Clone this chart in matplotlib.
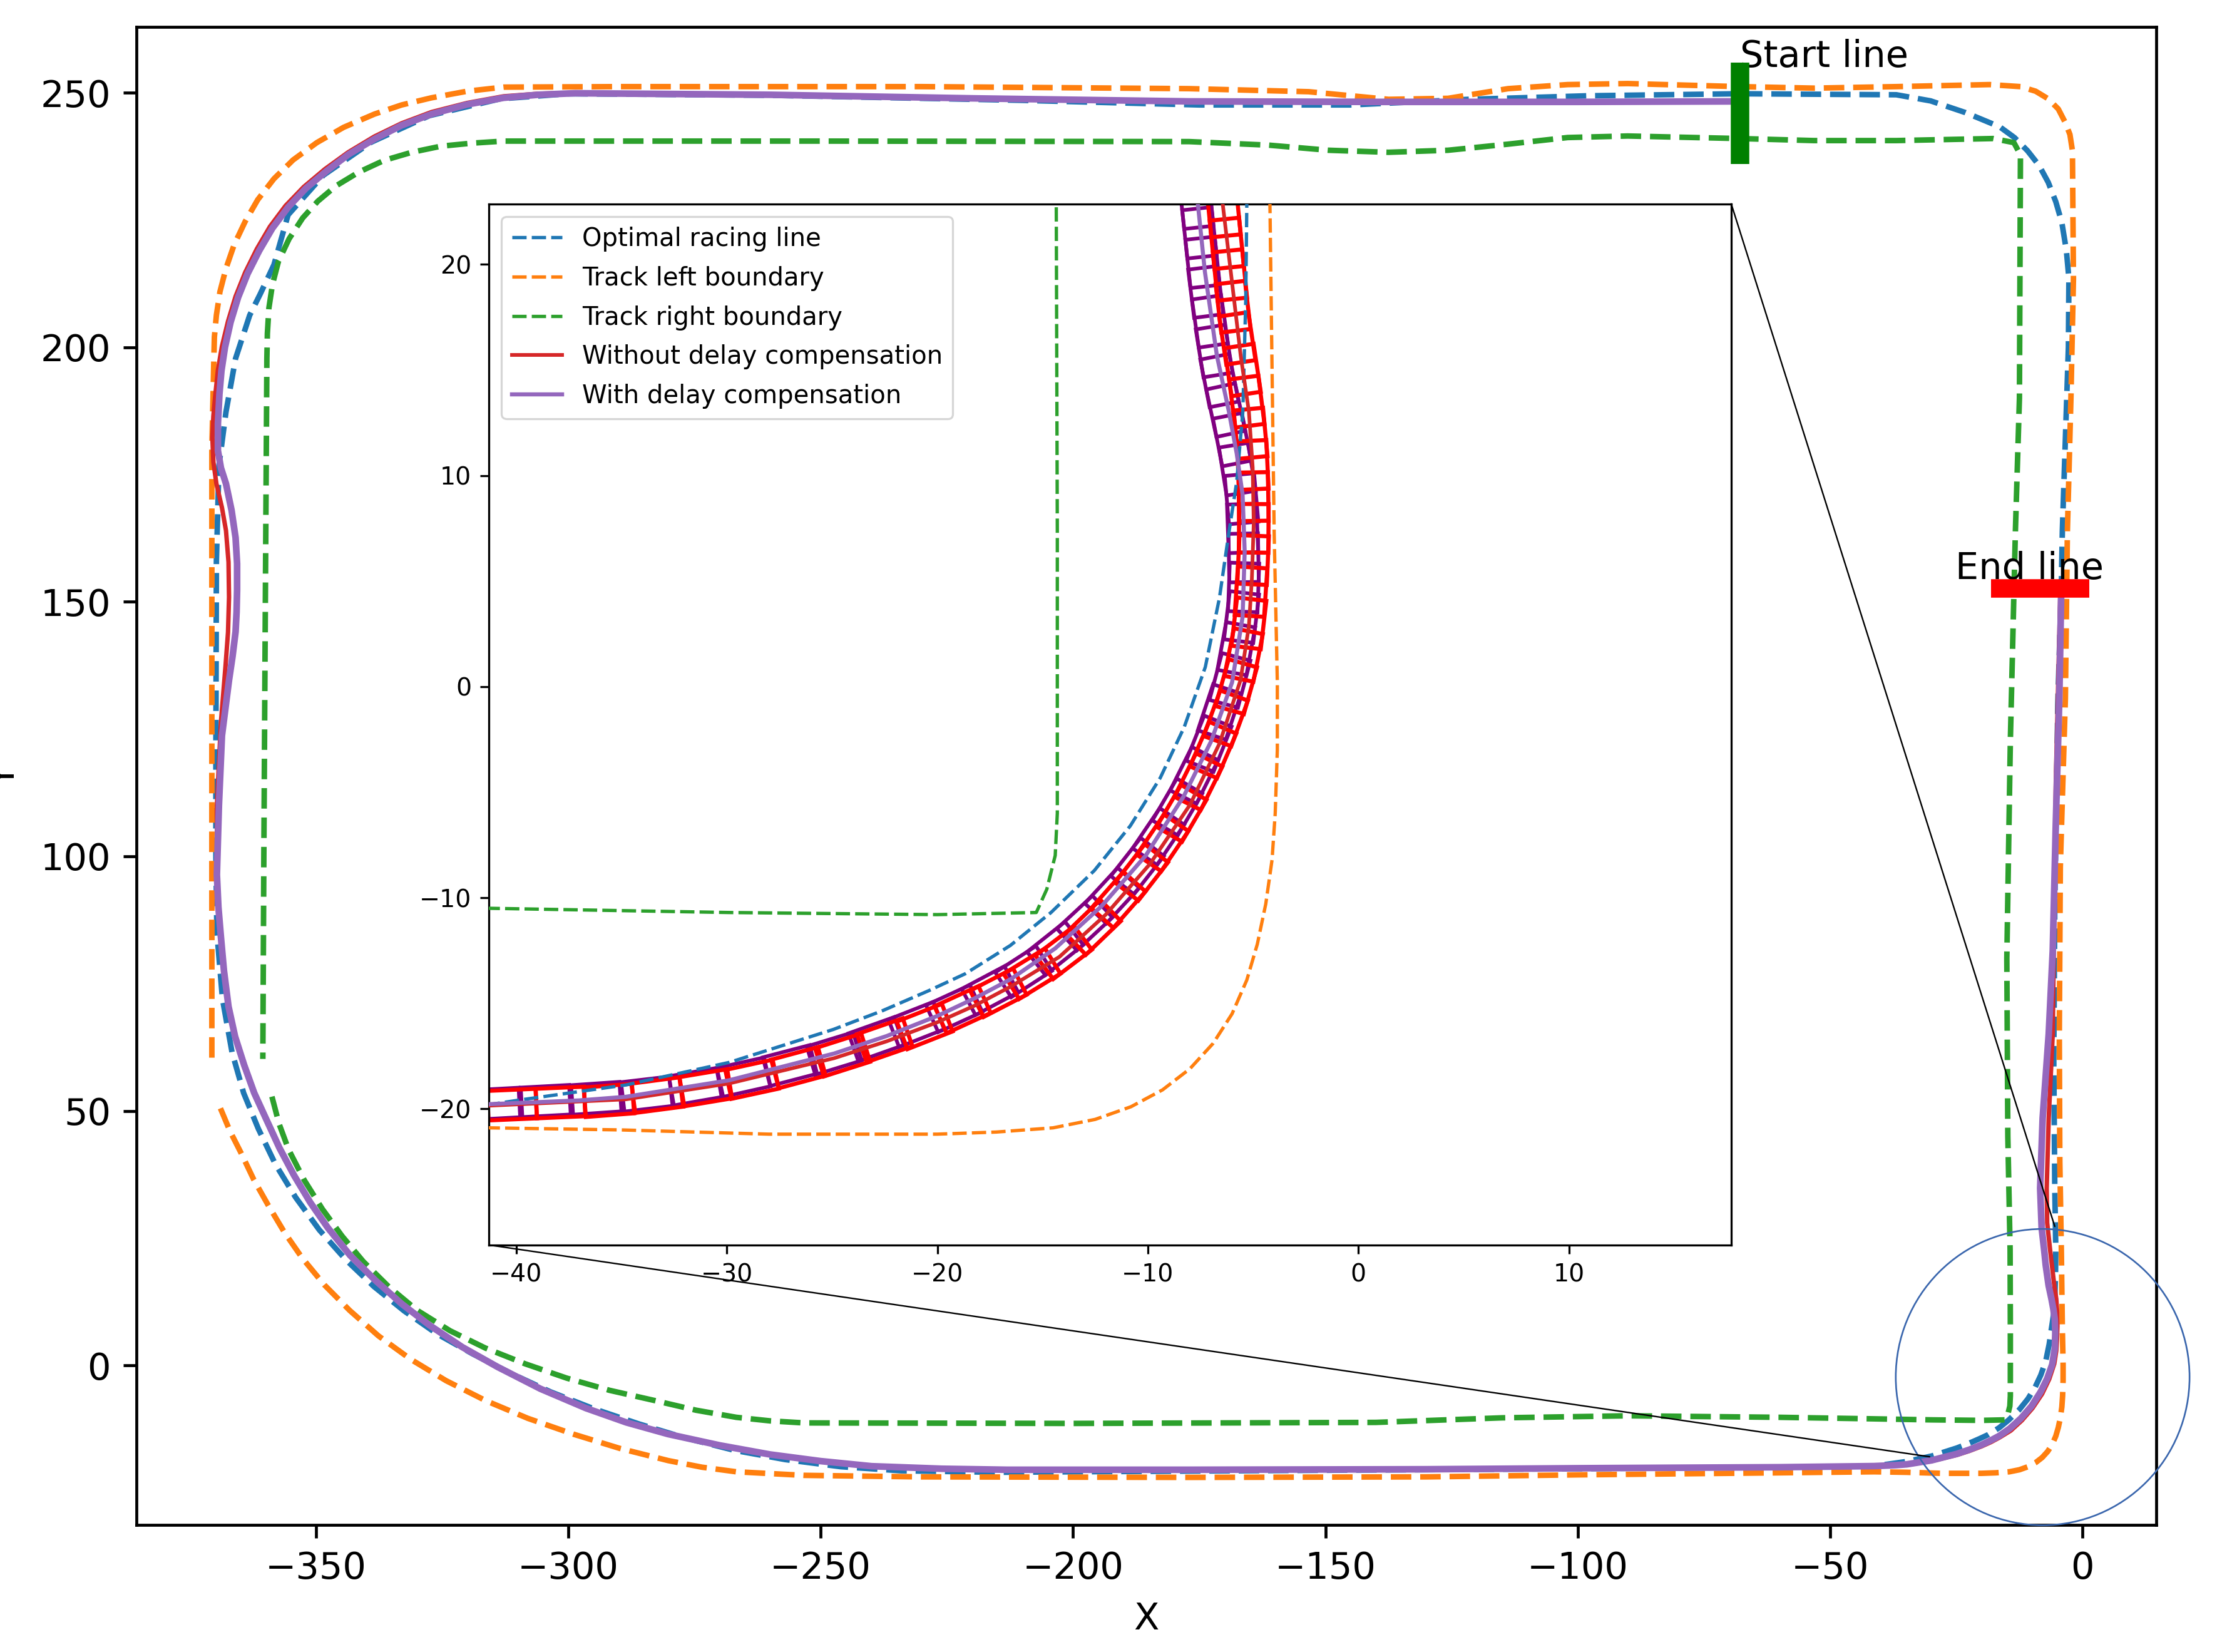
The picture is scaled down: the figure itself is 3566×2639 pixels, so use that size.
import numpy as np
import matplotlib
matplotlib.use("Agg")
import matplotlib.pyplot as plt
from matplotlib.patches import Circle, Rectangle, ConnectionPatch

# ---------------- data ----------------
optimal_line = [
    (-369.8, 100.0), (-369.6, 85.0), (-368.5, 72.0), (-366.6, 61.5), (-364.3, 53.5),
    (-361.4, 46.5), (-358.0, 39.5), (-354.0, 33.0), (-349.3, 26.6), (-344.0, 20.7),
    (-338.5, 15.5), (-332.5, 10.7), (-326.0, 6.2), (-319.0, 2.3), (-311.5, -1.5),
    (-303.5, -5.2), (-295.0, -8.5), (-286.0, -11.5), (-277.0, -14.2), (-267.0, -16.7),
    (-257.0, -18.5), (-246.0, -19.9), (-234.0, -20.7), (-215.0, -21.0), (-200.0, -20.9),
    (-150.0, -20.6), (-100.0, -20.3), (-60.0, -20.0), (-41.3, -19.8), (-39.75, -19.57),
    (-34.8, -18.87), (-29.88, -17.8), (-24.94, -16.24), (-22.6, -15.35), (-20.4, -14.4),
    (-18.67, -13.6), (-16.53, -12.26), (-14.6, -10.7), (-12.54, -8.71), (-10.83, -6.59),
    (-9.41, -4.32), (-8.27, -1.91), (-7.27, 0.93), (-6.6, 4.2), (-6.15, 7.3),
    (-5.78, 9.7), (-5.49, 13.0), (-5.35, 18.3), (-5.3, 22.8), (-5.5, 35.0),
    (-5.7, 60.0), (-5.5, 90.0), (-4.9, 130.0), (-4.2, 153.2), (-4.0, 163.9),
    (-3.3, 185.0), (-2.8, 200.0), (-2.7, 213.5), (-3.2, 219.0), (-4.1, 224.5),
    (-5.3, 228.6), (-6.8, 232.4), (-8.6, 235.7), (-10.9, 238.6), (-13.5, 241.2),
    (-16.4, 243.3), (-23.2, 246.1), (-30.1, 248.4), (-36.9, 249.6), (-68.0, 249.8),
    (-98.0, 249.4), (-121.7, 248.7), (-145.0, 247.6), (-175.0, 247.6), (-210.0, 248.5),
    (-260.0, 249.5), (-300.0, 249.8), (-313.5, 248.8), (-327.5, 245.5), (-339.0, 240.3),
    (-348.5, 233.8), (-355.5, 226.0), (-358.3, 216.2), (-361.0, 210.5), (-363.1, 206.3),
    (-365.9, 197.8), (-367.8, 187.3), (-369.2, 176.7), (-369.7, 158.0), (-369.8, 121.0),
    (-369.8, 100.0),
]

left_boundary = [
    (-368.9, 50.5), (-367.0, 46.0), (-364.8, 41.7), (-362.3, 36.5), (-359.4, 31.4),
    (-356.2, 26.1), (-352.7, 21.1), (-348.3, 15.8), (-343.3, 10.8), (-337.6, 5.8),
    (-331.2, 1.2), (-324.2, -3.0), (-316.4, -6.9), (-308.0, -10.4), (-299.0, -13.5),
    (-289.8, -16.3), (-280.2, -18.7), (-273.5, -20.0), (-266.7, -20.9), (-253.3, -21.6),
    (-230.0, -21.9), (-177.0, -22.0), (-130.0, -21.9), (-100.0, -21.5), (-60.0, -21.1),
    (-41.3, -20.9), (-35.0, -21.0), (-28.0, -21.2), (-20.0, -21.2), (-17.2, -21.1),
    (-14.5, -20.9), (-12.5, -20.5), (-10.8, -19.9), (-9.3, -19.1), (-8.0, -18.1),
    (-6.9, -16.9), (-6.0, -15.5), (-5.3, -13.9), (-4.8, -12.2), (-4.4, -10.3),
    (-4.1, -8.2), (-3.95, -6.0), (-3.85, -3.0), (-3.85, 0.2), (-4.0, 7.3),
    (-4.1, 15.0), (-4.2, 22.8), (-4.5, 40.0), (-4.6, 65.0), (-4.4, 98.0),
    (-3.4, 131.0), (-3.0, 163.9), (-2.3, 190.0), (-1.8, 213.5), (-2.0, 238.6),
    (-2.5, 241.8), (-3.4, 244.1), (-4.8, 246.8), (-6.8, 248.8), (-9.3, 250.3),
    (-12.3, 251.2), (-18.4, 251.6), (-36.9, 251.2), (-53.2, 250.9), (-68.0, 251.2),
    (-90.1, 251.8), (-102.0, 251.6), (-113.8, 250.8), (-125.7, 248.9), (-137.5, 248.7),
    (-153.3, 250.2), (-177.0, 250.8), (-230.0, 251.2), (-290.0, 251.2), (-312.8, 251.1),
    (-320.0, 250.3), (-327.1, 249.0), (-333.0, 247.6), (-338.4, 245.8), (-344.5, 243.2),
    (-349.8, 240.2), (-354.5, 236.8), (-358.3, 233.1), (-361.5, 229.0), (-364.0, 224.7),
    (-366.2, 220.1), (-367.8, 215.5), (-369.0, 210.9), (-369.7, 206.3), (-370.1, 202.0),
    (-370.2, 197.8), (-370.6, 180.0), (-370.6, 120.0), (-370.6, 60.2),
]

right_boundary = [
    (-358.7, 52.8), (-357.3, 47.5), (-355.4, 42.4), (-352.3, 36.4), (-348.7, 30.7),
    (-344.8, 25.4), (-340.6, 20.4), (-335.5, 15.4), (-329.9, 10.8), (-323.4, 6.8),
    (-316.4, 3.4), (-308.5, 0.3), (-300.3, -2.5), (-291.8, -4.9), (-282.9, -6.9),
    (-274.7, -8.8), (-266.7, -10.2), (-260.0, -10.9), (-253.3, -11.3), (-200.0, -11.4),
    (-140.0, -11.2), (-115.0, -10.3), (-90.0, -9.9), (-60.0, -10.2), (-41.3, -10.5),
    (-29.9, -10.7), (-20.0, -10.8), (-15.3, -10.7), (-14.8, -9.6), (-14.4, -8.0),
    (-14.3, -6.0), (-14.3, 7.3), (-14.35, 22.8), (-14.8, 45.0), (-15.0, 80.0),
    (-14.3, 122.7), (-13.7, 147.4), (-13.3, 163.9), (-12.5, 190.0), (-12.3, 237.8),
    (-13.6, 240.2), (-17.7, 241.0), (-36.9, 240.6), (-53.2, 240.6), (-68.0, 241.0),
    (-90.1, 241.5), (-102.0, 241.2), (-113.8, 239.9), (-125.7, 238.7), (-137.5, 238.3),
    (-149.4, 238.7), (-161.2, 239.7), (-177.0, 240.4), (-250.0, 240.5), (-312.8, 240.5),
    (-319.0, 240.1), (-325.2, 239.5), (-331.0, 238.3), (-336.5, 236.7), (-341.5, 234.4),
    (-346.0, 231.7), (-349.6, 228.7), (-352.6, 225.4), (-355.3, 221.3), (-357.4, 216.9),
    (-358.6, 212.3), (-359.3, 207.7), (-359.6, 202.7), (-359.7, 197.8), (-360.0, 150.0),
    (-360.3, 100.0), (-360.5, 60.2),
]

without_comp = [
    (-67.7, 248.4), (-100.0, 248.3), (-140.0, 248.2), (-177.0, 248.3), (-220.0, 248.9),
    (-260.0, 249.6), (-298.6, 250.0), (-306.0, 249.8), (-312.8, 249.3), (-320.0, 248.0),
    (-327.1, 246.2), (-333.0, 244.0), (-338.4, 241.4), (-343.6, 238.3), (-348.2, 235.0),
    (-352.4, 231.5), (-356.0, 227.8), (-359.1, 223.7), (-361.7, 219.3), (-364.0, 214.7),
    (-365.9, 210.0), (-367.4, 205.1), (-368.6, 200.2), (-369.4, 195.5), (-369.9, 190.8),
    (-370.3, 186.5), (-370.5, 182.3), (-370.3, 177.5), (-369.7, 173.2), (-368.6, 168.5),
    (-367.8, 164.0), (-367.3, 157.8), (-367.2, 150.9), (-367.4, 144.0), (-367.9, 137.3),
    (-368.8, 126.4), (-369.6, 110.0), (-369.6, 96.4), (-369.3, 90.0), (-368.8, 84.1),
    (-368.2, 77.5), (-367.3, 70.5), (-366.0, 64.6), (-364.2, 59.0), (-362.2, 53.5),
    (-359.8, 48.3), (-357.2, 42.7), (-354.3, 37.3), (-351.1, 32.0), (-347.6, 27.0),
    (-343.2, 21.6), (-338.2, 16.7), (-333.0, 12.1), (-327.5, 7.9), (-321.0, 3.6),
    (-314.0, -0.3), (-305.5, -4.6), (-296.5, -8.4), (-288.5, -11.2), (-280.2, -13.5),
    (-270.0, -15.7), (-260.0, -17.5), (-250.0, -18.8), (-239.9, -19.8), (-226.0, -20.3),
    (-213.0, -20.5), (-177.0, -20.5), (-130.0, -20.4), (-100.0, -20.2), (-60.0, -20.0),
    (-41.3, -19.85), (-34.8, -19.55), (-29.9, -18.8), (-24.9, -17.6), (-22.4, -16.8),
    (-20.0, -15.9), (-18.2, -15.1), (-16.5, -14.2), (-14.2, -12.8), (-12.0, -10.8),
    (-9.9, -8.4), (-8.0, -5.6), (-6.6, -2.7), (-5.6, 0.3), (-5.2, 2.87),
    (-5.06, 5.09), (-4.97, 7.73), (-5.02, 10.38), (-5.2, 13.03), (-5.59, 15.68),
    (-6.06, 19.65), (-6.44, 22.83), (-7.0, 28.0), (-7.1, 34.8), (-6.7, 48.6),
    (-5.9, 65.1), (-5.7, 81.5), (-5.3, 114.5), (-4.8, 135.0), (-4.4, 152.0),
]

with_comp = [
    (-67.7, 248.3), (-100.0, 248.2), (-140.0, 248.2), (-177.0, 248.3), (-220.0, 248.9),
    (-260.0, 249.6), (-298.6, 249.9), (-306.0, 249.6), (-312.8, 249.0), (-320.0, 247.7),
    (-327.1, 245.8), (-333.0, 243.6), (-338.4, 240.9), (-343.5, 237.9), (-347.9, 234.6),
    (-352.0, 231.2), (-355.5, 227.5), (-358.6, 223.4), (-361.2, 219.0), (-363.5, 214.5),
    (-365.4, 209.8), (-366.9, 204.9), (-368.0, 200.0), (-368.7, 195.4), (-369.1, 190.8),
    (-369.4, 185.0), (-369.4, 179.7), (-368.8, 176.3), (-367.8, 173.2), (-366.7, 168.0),
    (-365.9, 162.6), (-365.6, 157.5), (-365.6, 152.3), (-365.7, 148.0), (-365.9, 144.1),
    (-366.5, 139.3), (-367.2, 134.6), (-368.6, 123.7), (-369.2, 110.0), (-369.6, 96.4),
    (-369.3, 90.0), (-368.8, 84.1), (-368.2, 77.5), (-367.3, 70.5), (-366.0, 64.6),
    (-364.2, 59.0), (-362.2, 53.5), (-359.8, 48.3), (-357.2, 42.7), (-354.3, 37.3),
    (-351.1, 32.0), (-347.6, 27.0), (-343.2, 21.6), (-338.2, 16.7), (-333.0, 12.1),
    (-327.5, 7.9), (-321.0, 3.6), (-314.0, -0.3), (-305.5, -4.6), (-296.5, -8.4),
    (-288.5, -11.2), (-280.2, -13.5), (-270.0, -15.7), (-260.0, -17.5), (-250.0, -18.8),
    (-239.9, -19.8), (-226.0, -20.3), (-213.0, -20.5), (-177.0, -20.5), (-130.0, -20.4),
    (-100.0, -20.2), (-60.0, -20.0), (-41.3, -19.78), (-37.0, -19.6), (-34.8, -19.43),
    (-29.9, -18.65), (-24.9, -17.38), (-22.4, -16.55), (-20.0, -15.6), (-18.2, -14.75),
    (-16.5, -13.85), (-14.4, -12.4), (-12.2, -10.4), (-10.1, -8.0), (-8.3, -5.2),
    (-7.0, -2.6), (-6.0, 0.2), (-5.5, 3.3), (-5.4, 6.4), (-5.5, 9.1),
    (-5.78, 11.05), (-6.15, 13.03), (-6.72, 15.68), (-7.29, 19.65), (-7.62, 22.83),
    (-8.1, 27.0), (-8.4, 34.8), (-7.9, 48.6), (-6.7, 65.1), (-5.9, 81.5),
    (-5.3, 106.3), (-4.6, 131.0), (-4.2, 153.2),
]

# vehicle footprints shown in the zoomed view
without_comp_cars = [
    (-40.2, -19.8), (-37.9, -19.7), (-35.6, -19.6), (-33.3, -19.35), (-31.0, -19.0),
    (-28.8, -18.6), (-26.6, -18.05), (-24.5, -17.45), (-22.5, -16.75), (-20.6, -16.1),
    (-18.8, -15.3), (-17.1, -14.5), (-15.5, -13.6), (-14.0, -12.6), (-12.6, -11.4),
    (-11.4, -10.1), (-10.3, -8.8), (-9.3, -7.4), (-8.4, -6.0), (-7.6, -4.5),
    (-6.9, -3.0), (-6.3, -1.5), (-5.8, 0.0), (-5.45, 1.5), (-5.2, 3.0),
    (-5.1, 4.5), (-5.0, 6.0), (-4.97, 7.5), (-4.98, 9.0), (-5.02, 10.5),
    (-5.12, 12.0), (-5.3, 13.5), (-5.5, 15.0), (-5.75, 16.5), (-5.95, 18.0),
    (-6.1, 19.5), (-6.25, 21.0), (-6.4, 22.5),
]
with_comp_cars = [
    (-41.0, -19.76), (-38.6, -19.63), (-36.2, -19.5), (-33.8, -19.3), (-31.5, -18.95),
    (-29.2, -18.5), (-27.0, -17.95), (-24.9, -17.38), (-22.9, -16.7), (-21.0, -16.0),
    (-19.2, -15.25), (-17.5, -14.4), (-15.9, -13.5), (-14.4, -12.4), (-13.0, -11.2),
    (-11.7, -9.9), (-10.5, -8.5), (-9.5, -7.1), (-8.6, -5.7), (-7.8, -4.2),
    (-7.1, -2.7), (-6.6, -1.2), (-6.1, 0.3), (-5.8, 1.8), (-5.55, 3.3),
    (-5.45, 4.7), (-5.45, 6.1), (-5.5, 7.5), (-5.55, 8.9), (-5.75, 10.3),
    (-6.0, 11.7), (-6.3, 13.1), (-6.6, 14.5), (-6.85, 15.9), (-7.05, 17.3),
    (-7.25, 18.7), (-7.4, 20.1), (-7.55, 21.5), (-7.7, 22.9),
]
car_length = 2.3
car_width = 1.4

start_line_x = [-67.8, -67.8]
start_line_y = [236.0, 255.9]
end_line_x = [-18.1, 1.4]
end_line_y = [152.6, 152.6]
start_label_pos = (-67.8, 255.0)
end_label_pos = (-25.2, 154.5)

zoom_center = (-7.9, -2.3)
zoom_radius = 29.1
connector_targets = [(-5.5, 27.3), (-30.3, -17.95)]

main_xticks = [-350, -300, -250, -200, -150, -100, -50, 0]
main_yticks = [0, 50, 100, 150, 200, 250]
inset_xticks = [-40, -30, -20, -10, 0, 10]
inset_yticks = [-20, -10, 0, 10, 20]

labels = ["Optimal racing line", "Track left boundary", "Track right boundary",
          "Without delay compensation", "With delay compensation"]
colors = ["#1f77b4", "#ff7f0e", "#2ca02c", "#d62728", "#9467bd"]


def xy(seq):
    a = np.asarray(seq, dtype=float)
    return a[:, 0], a[:, 1]


# ---------------- figure ----------------
DPI = 425
fig = plt.figure(figsize=(3566 / DPI, 2639 / DPI), dpi=DPI)
ax = fig.add_axes([0.06122, 0.07704, 0.90497, 0.90658])

series = [optimal_line, left_boundary, right_boundary, without_comp, with_comp]
main_styles = [dict(ls="--", lw=1.5), dict(ls="--", lw=1.5), dict(ls="--", lw=1.5),
               dict(ls="-", lw=1.2), dict(ls="-", lw=1.8)]
for s, c, st, lab in zip(series, colors, main_styles, labels):
    x, y = xy(s)
    ax.plot(x, y, color=c, label=lab, **st)

ax.plot(start_line_x, start_line_y, color="green", lw=5, solid_capstyle="butt", zorder=4)
ax.plot(end_line_x, end_line_y, color="red", lw=5, solid_capstyle="butt", zorder=4)
ax.text(*start_label_pos, "Start line", fontsize=10, ha="left", va="baseline")
ax.text(*end_label_pos, "End line", fontsize=10, ha="left", va="baseline")

ax.add_patch(Circle(zoom_center, zoom_radius, fill=False, edgecolor="#3a66ad",
                    lw=0.45, clip_on=False, zorder=5))

ax.set_xlim(-385.5, 14.66)
ax.set_ylim(-31.3, 262.9)
ax.set_xticks(main_xticks)
ax.set_yticks(main_yticks)
ax.set_xlabel("X", fontsize=10, labelpad=4)
ax.set_ylabel("Y", fontsize=10)
ax.yaxis.set_label_coords(-0.0567, 0.5)

# ---------------- inset ----------------
axi = fig.add_axes([0.21913, 0.24638, 0.55651, 0.63021])


def draw_cars(seq, color, lw):
    x, y = xy(seq)
    heading = np.degrees(np.arctan2(np.gradient(y), np.gradient(x)))
    for cx, cy, h in zip(x, y, heading):
        axi.add_patch(Rectangle((cx - car_length / 2, cy - car_width / 2), car_length,
                                car_width, angle=h, rotation_point="center",
                                fill=False, edgecolor=color, lw=lw, zorder=2))


draw_cars(with_comp_cars, "purple", 1.0)
draw_cars(without_comp_cars, "red", 1.1)

inset_styles = [dict(ls=(0, (4.3, 1.55)), lw=0.9), dict(ls=(0, (4.3, 1.55)), lw=0.9),
                dict(ls=(0, (4.3, 1.55)), lw=0.9), dict(ls="-", lw=1.0), dict(ls="-", lw=1.1)]
for s, c, st, lab in zip(series, colors, inset_styles, labels):
    x, y = xy(s)
    axi.plot(x, y, color=c, label=lab, zorder=3, **st)

axi.set_xlim(-41.29, 17.71)
axi.set_ylim(-26.45, 22.87)
axi.set_xticks(inset_xticks)
axi.set_yticks(inset_yticks)
axi.tick_params(labelsize=6.7, length=2.4, width=0.55, pad=2.4)
for sp in axi.spines.values():
    sp.set_linewidth(0.55)
leg = axi.legend(loc="upper left", fontsize=6.8, labelspacing=0.57)
leg.get_frame().set_linewidth(0.55)

# connector lines from the inset to the zoomed region
for corner, target in zip([(1, 1), (0, 0)], connector_targets):
    con = ConnectionPatch(xyA=corner, coordsA=axi.transAxes, xyB=target,
                          coordsB=ax.transData, color="black", lw=0.4)
    fig.add_artist(con)

fig.savefig("out.png", dpi=DPI)
